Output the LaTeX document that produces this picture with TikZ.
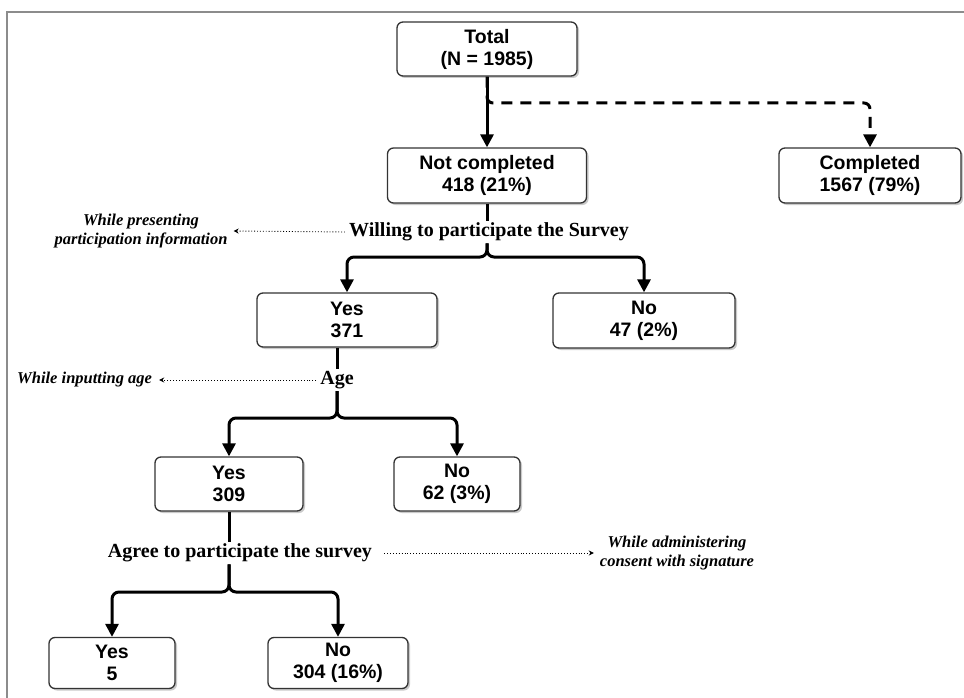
\documentclass[tikz,border=0pt]{standalone}
\usepackage{fontspec}
\setmainfont{Liberation Serif}
\newfontfamily\boxfont{Liberation Sans}
\usetikzlibrary{arrows.meta,shadows}
\begin{document}
\begin{tikzpicture}[x=1pt,y=-1pt,
  box/.style={draw=black!80, line width=1.3pt, rounded corners=6pt, fill=white,
    align=center, inner sep=0pt,
    font=\boxfont\bfseries\fontsize{19.5}{22}\selectfont,
    drop shadow={shadow xshift=2pt, shadow yshift=-2pt, opacity=0.35, fill=black!60}},
  crit/.style={font=\bfseries\fontsize{20}{22}\selectfont, inner sep=2pt},
  note/.style={font=\bfseries\itshape\fontsize{16.5}{18.5}\selectfont, align=center, inner sep=2pt},
  flow/.style={line width=3pt, rounded corners=7pt, -{Triangle[length=13pt,width=13pt]}},
  plain/.style={line width=3pt},
  dashflow/.style={line width=3pt, dash pattern=on 11pt off 8pt, rounded corners=6pt,
    -{Triangle[length=13pt,width=13pt]}},
  notearrow/.style={line width=0.9pt, dotted, -{Stealth[length=5pt,width=5pt]}}
]
\useasboundingbox (0,0) rectangle (964,698);
% frame
\draw[black!45, line width=1.5pt] (964,12) -- (7,12) -- (7,698);

% boxes
\node[box, minimum width=180pt, minimum height=54pt] (tot) at (487,49) {Total\\(N = 1985)};
\node[box, minimum width=199pt, minimum height=55pt] (nc) at (487,175.5) {Not completed\\418 (21\%)};
\node[box, minimum width=182pt, minimum height=55pt] (comp) at (870,175.5) {Completed\\1567 (79\%)};
\node[box, minimum width=180pt, minimum height=54pt] (y371) at (347,320) {Yes\\371};
\node[box, minimum width=182pt, minimum height=55pt] (n47) at (644,320.5) {No\\47 (2\%)};
\node[box, minimum width=148pt, minimum height=54pt] (y309) at (229,484) {Yes\\309};
\node[box, minimum width=126pt, minimum height=54pt] (n62) at (457,484) {No\\62 (3\%)};
\node[box, minimum width=126pt, minimum height=51pt] (y5) at (112,663) {Yes\\5};
\node[box, minimum width=140pt, minimum height=51pt] (n304) at (338,663) {No\\304 (16\%)};

% criteria text
\node[crit] (willing) at (489,232) {Willing to participate the Survey};
\node[crit] (age) at (337,380) {Age};
\node[crit] (agree) at (240,553) {Agree to participate the survey};

% notes
\node[note] (n1) at (141,231) {While presenting\\participation information};
\node[note, anchor=west] (n2) at (15,380) {While inputting age};
\node[note] (n3) at (677,553) {While administering\\consent with signature};

% branch coordinates
\coordinate (d1) at (487,103);
\coordinate (b1) at (487,257);
\coordinate (b2) at (337,418);
\coordinate (b3) at (229,592);

% top level
\draw[flow] (tot.south) -- (nc.north);
\draw[dashflow] (tot.south) -- (d1) -| (comp.north);

% willing
\draw[plain] (nc.south) -- (nc.south |- willing.north);
\draw[flow] (nc.south |- willing.south) -- (b1) -| (y371.north);
\draw[flow] (nc.south |- willing.south) -- (b1) -| (n47.north);

% age
\draw[plain] (age.center |- y371.south) -- (age.north);
\draw[flow] (age.south) -- (b2) -| (y309.north);
\draw[flow] (age.south) -- (b2) -| (n62.north);

% agree
\draw[plain] (y309.south) -- (y309.south |- agree.north);
\draw[flow] (y309.south |- agree.south) -- (b3) -| (y5.north);
\draw[flow] (y309.south |- agree.south) -- (b3) -| (n304.north);

% note arrows
\draw[notearrow] ([xshift=-2pt]willing.west) -- ([xshift=4pt]n1.east);
\draw[notearrow] ([xshift=-2pt]age.west) -- ([xshift=5pt]n2.east);
\draw[notearrow] ([xshift=10pt]agree.east) -- ([xshift=-4pt]n3.west);
\end{tikzpicture}
\end{document}
